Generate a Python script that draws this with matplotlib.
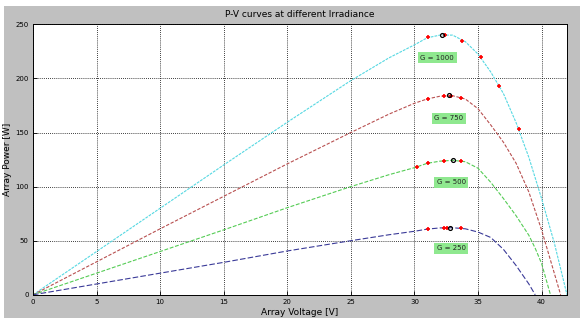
import matplotlib
matplotlib.use("Agg")
import matplotlib.pyplot as plt
from matplotlib.patches import Rectangle

# P-V curves
v_1000 = [0, 5, 10, 15, 20, 25, 28, 30, 31, 32, 33, 34, 35, 36, 37, 38, 39, 40, 41, 42]
p_1000 = [0, 40, 80, 120, 159.5, 198, 219, 231, 237.5, 240, 240, 234, 222.5, 206, 186, 159, 127, 89, 48, 0]

v_750 = [0, 5, 10, 15, 20, 25, 28, 30, 31, 32, 33, 34, 35, 36, 37, 38, 39, 40, 41, 41.5]
p_750 = [0, 30.5, 61, 91, 121, 150, 167, 177, 181, 183.5, 184, 181, 172, 157, 141, 121.5, 95, 60, 20, 0]

v_500 = [0, 5, 10, 15, 20, 25, 28, 30, 31, 32, 33, 34, 35, 36, 37, 38, 39, 39.5, 40, 40.7]
p_500 = [0, 20, 40, 60, 80.5, 100, 111, 117.5, 121.5, 123.5, 124.3, 123, 117, 104, 89, 73, 55, 43, 29, 0]

v_250 = [0, 5, 10, 15, 20, 25, 28, 30, 31, 32, 33, 34, 35, 36, 37, 38, 39, 39.5]
p_250 = [0, 10, 20, 30, 40.5, 50, 55.5, 58.7, 60.7, 61.8, 62, 61, 58, 53, 42, 27, 10, 0]

# tracking steps (red +) and maximum power point (black o)
trk_v_1000 = [31.1, 32.4, 33.75, 35.2, 36.65, 38.2]
trk_p_1000 = [238.4, 240.0, 234.7, 220.0, 193.2, 152.9]
trk_v_750 = [31.05, 32.35, 32.9, 33.7]
trk_p_750 = [181.2, 183.6, 183.4, 182.1]
trk_v_500 = [30.2, 31.05, 32.35, 33.7]
trk_p_500 = [118.3, 121.5, 123.9, 123.9]
trk_v_250 = [31.05, 32.3, 32.55, 33.7]
trk_p_250 = [60.8, 62.0, 62.0, 61.4]

mpp_v = [32.2, 32.7, 33.0, 32.8]
mpp_p = [240.3, 184.3, 124.3, 62.0]

labels = ["G = 1000", "G = 750", "G = 500", "G = 250"]
label_v = [31.8, 32.7, 32.9, 32.9]
label_p = [219, 163, 104, 43]

curves = [
    (v_1000, p_1000, "#55d8e2", (0, (2.5, 1))),
    (v_750, p_750, "#b85050", (0, (3, 1.5))),
    (v_500, p_500, "#55cc55", (0, (3.5, 1.5))),
    (v_250, p_250, "#3a3a98", (0, (5, 2))),
]
tracks = [(trk_v_1000, trk_p_1000), (trk_v_750, trk_p_750),
          (trk_v_500, trk_p_500), (trk_v_250, trk_p_250)]

fig = plt.figure(figsize=(5.8, 3.2), dpi=100, facecolor="white")
# grey matlab-like window background
fig.patches.append(Rectangle((4 / 580, 2 / 320), 576 / 580, 312 / 320,
                             transform=fig.transFigure, facecolor="#c0c0c0",
                             edgecolor="none", zorder=-10))

ax = fig.add_axes([33 / 580, 25.2 / 320, 534 / 580, 270.5 / 320])
ax.set_facecolor("white")

for v, p, c, ls in curves:
    ax.plot(v, p, color=c, lw=0.8, linestyle=ls)

for tv, tp in tracks:
    ax.plot(tv, tp, linestyle="none", marker="+", color="red",
            markersize=3.3, markeredgewidth=1.2)
ax.plot(mpp_v, mpp_p, linestyle="none", marker="o", color="black",
        markerfacecolor="none", markersize=2.8, markeredgewidth=0.9)

for lab, lv, lp in zip(labels, label_v, label_p):
    ax.text(lv, lp, lab, ha="center", va="center", fontsize=5, color="#222222",
            bbox=dict(boxstyle="square,pad=0.35", facecolor="#8fe88f", edgecolor="none"))

ax.set_xlim(0, 42)
ax.set_ylim(0, 250)
ax.set_xticks(range(0, 41, 5))
ax.set_yticks(range(0, 251, 50))
ax.grid(True, color="black", linestyle=(0, (1, 1.5)), linewidth=0.6)
ax.tick_params(direction="in", labelsize=5, length=3, width=0.6, pad=3)
for s in ax.spines.values():
    s.set_linewidth(0.7)

ax.set_title("P-V curves at different Irradiance", fontsize=6.5, pad=5)
ax.set_xlabel("Array Voltage [V]", fontsize=6.5, labelpad=2)
ax.set_ylabel("Array Power [W]", fontsize=6.5)
ax.yaxis.set_label_coords(-0.04, 0.5)

fig.savefig("out.png", dpi=100, facecolor=fig.get_facecolor())
